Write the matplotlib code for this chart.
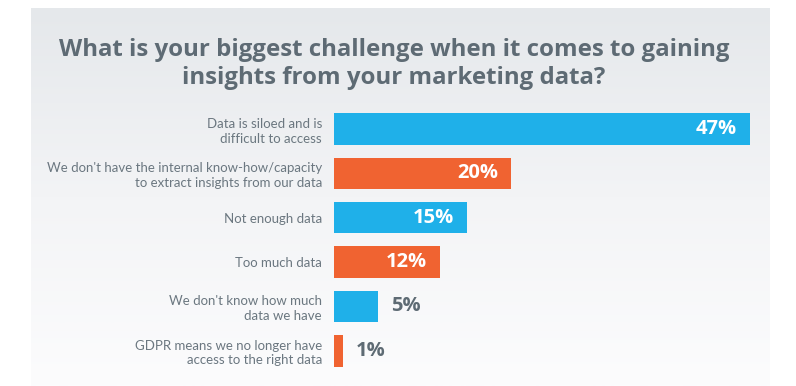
import numpy as np
import matplotlib
matplotlib.use("Agg")
import matplotlib.pyplot as plt
from matplotlib.colors import LinearSegmentedColormap

# data
labels = [
    "Data is siloed and is\ndifficult to access",
    "We don't have the internal know-how/capacity\nto extract insights from our data",
    "Not enough data",
    "Too much data",
    "We don't know how much\ndata we have",
    "GDPR means we no longer have\naccess to the right data",
]
values = [47, 20, 15, 12, 5, 1]
title = "What is your biggest challenge when it comes to gaining\ninsights from your marketing data?"

BLUE = "#1fb0e9"
ORANGE = "#f06331"
TITLE_GRAY = "#5e6b74"
LABEL_GRAY = "#6b7780"

W, H = 796, 386
fig = plt.figure(figsize=(W / 100, H / 100), dpi=100)
fig.patch.set_facecolor("white")


def px_axes(x0, y0, x1, y1, **kw):
    # axes from pixel box (top-left origin)
    return fig.add_axes([x0 / W, 1 - y1 / H, (x1 - x0) / W, (y1 - y0) / H], **kw)


# gradient panel behind everything
bg = px_axes(31, 8, 770, 386)
cmap = LinearSegmentedColormap.from_list("bg", ["#e5e8eb", "#f3f4f6", "#fcfcfd"])
bg.imshow(np.linspace(0, 1, 256).reshape(-1, 1), aspect="auto", cmap=cmap,
          extent=[0, 1, 0, 1], origin="upper")
bg.set_axis_off()

fig.text(394 / W, 1 - 64 / H, title, ha="center", va="center",
         fontsize=17.3, fontweight="bold", family="Open Sans", color=TITLE_GRAY,
         linespacing=1.25)

# bar axes: 0..47 over 416 px, rows 44.3 px apart
ax = px_axes(334, 106.85, 750, 372.95)
ax.set_facecolor("none")
y = np.arange(len(values))
colors = [BLUE if i % 2 == 0 else ORANGE for i in range(len(values))]
ax.barh(y, values, height=0.71, color=colors)
ax.set_xlim(0, 47)
ax.set_ylim(len(values) - 0.5, -0.5)

ax.set_yticks(y)
ax.set_yticklabels(labels, family="Lato", fontsize=9.5, color=LABEL_GRAY,
                   linespacing=1.25)
ax.tick_params(axis="y", length=0, pad=8.6)
ax.set_xticks([])
for s in ax.spines.values():
    s.set_visible(False)

for yi, v in zip(y, values):
    txt = f"{v}%"
    if v >= 10:
        ax.annotate(txt, (v, yi), xytext=(-9.5, 0), textcoords="offset points",
                    ha="right", va="center", color="white", fontsize=14.5,
                    fontweight="bold", family="Open Sans")
    else:
        ax.annotate(txt, (v, yi), xytext=(9.5, 0), textcoords="offset points",
                    ha="left", va="center", color=TITLE_GRAY, fontsize=14.5,
                    fontweight="bold", family="Open Sans")

fig.savefig("out.png", dpi=100, facecolor="white")
